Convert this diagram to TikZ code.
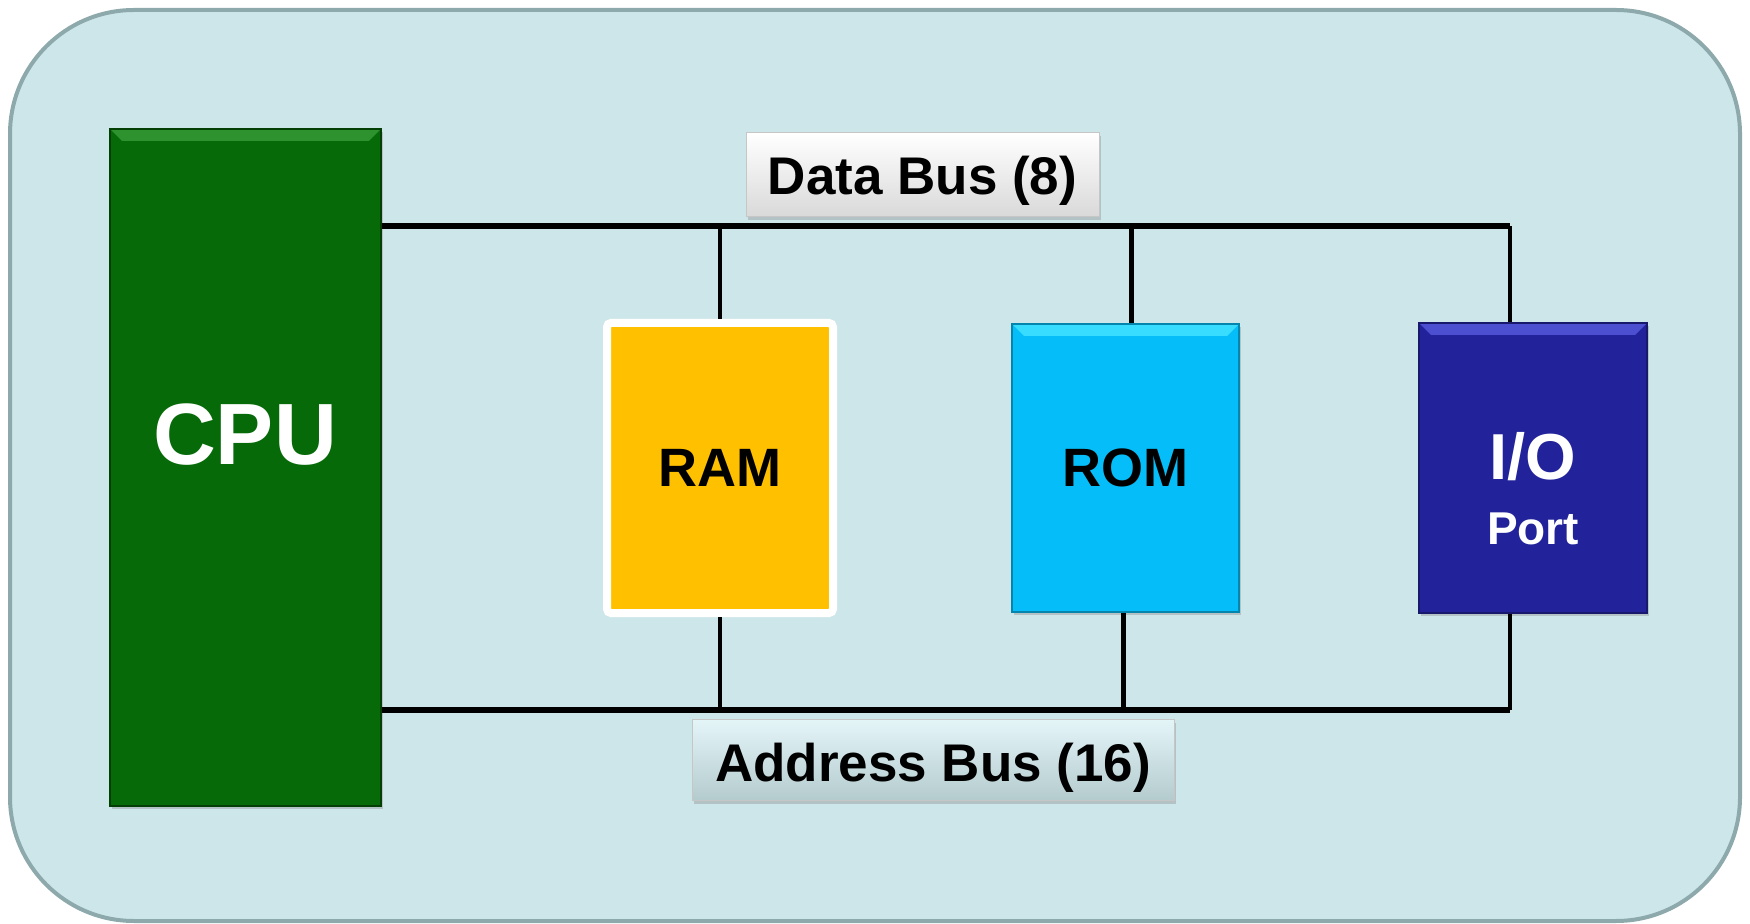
\documentclass[tikz,border=0pt]{standalone}
\usepackage{fontspec}
\setmainfont{Liberation Sans}
\usetikzlibrary{shadows}

\definecolor{panelbg}{HTML}{CDE6EA}
\definecolor{panelrim}{HTML}{8DA9AB}
\definecolor{cpugreen}{HTML}{066A08}
\definecolor{cpulight}{HTML}{2E922F}
\definecolor{ramgold}{HTML}{FFC000}
\definecolor{romcyan}{HTML}{05BEF9}
\definecolor{romlight}{HTML}{38DCFF}
\definecolor{ioblue}{HTML}{22239A}
\definecolor{iolight}{HTML}{4B4FD0}
\definecolor{addrtop}{HTML}{E4F5F8}
\definecolor{addrbot}{HTML}{B4CBCE}

\tikzset{
    chip/.style={rectangle, inner sep=0pt, text=white, font=\bfseries,
        drop shadow={opacity=0.35, shadow xshift=1pt, shadow yshift=-1.5pt}},
    bevel/.style={path picture={
        \fill[#1] (path picture bounding box.north west)
            -- (path picture bounding box.north east)
            -- ([xshift=-6pt,yshift=-6pt]path picture bounding box.north east)
            -- ([xshift=6pt,yshift=-6pt]path picture bounding box.north west) -- cycle;}},
    buslabel/.style={rectangle, inner sep=0pt, draw=gray!45, line width=0.5pt,
        drop shadow={opacity=0.35, shadow xshift=1pt, shadow yshift=-1.5pt}},
    bus/.style={line width=3pt},
    tap/.style={line width=2.4pt}
}

\begin{document}
\begin{tikzpicture}[x=0.5pt, y=-0.5pt]
    \useasboundingbox (0,0) rectangle (1750,924);

    % --- Pannello di sfondo ---
    \draw[fill=panelbg, draw=panelrim, line width=2pt, rounded corners=62pt]
        (10,10) rectangle (1740,921);

    % --- Blocchi ---
    \node[chip, fill=cpugreen, bevel=cpulight, draw=cpugreen!60!black, line width=0.6pt,
          minimum width=135.5pt, minimum height=338.5pt] (cpu) at (245.5,467.5) {};
    \node[text=white, font=\fontsize{43.5}{50}\selectfont\bfseries] (cpulbl) at (245,435) {CPU};

    \node[chip, fill=ramgold, draw=white, line width=4pt, rounded corners=2pt, text=black,
          minimum width=113pt, minimum height=145pt,
          font=\fontsize{27}{32}\selectfont\bfseries] (ram) at (720,468) {RAM};

    \node[chip, fill=romcyan, bevel=romlight, draw=romcyan!70!black, line width=0.6pt, text=black,
          minimum width=113.5pt, minimum height=144pt,
          font=\fontsize{27}{32}\selectfont\bfseries] (rom) at (1125.5,468) {ROM};

    \node[chip, fill=ioblue, bevel=iolight, draw=ioblue!70!black, line width=0.6pt,
          minimum width=114pt, minimum height=145pt] (io) at (1533,468) {};
    \node[anchor=base, text=white, font=\fontsize{32.5}{36}\selectfont\bfseries]
        (iolbl) at (1533,480) {I/O};
    \node[anchor=base, text=white, font=\fontsize{23}{27}\selectfont\bfseries]
        (portlbl) at (1533,545) {Port};

    % --- Bus dati ---
    \coordinate (dbus) at (1510,226);
    \draw[bus] (cpu.east |- dbus) -- (dbus);
    \draw[tap] (dbus) -- (dbus |- io.north);
    \draw[tap] (ram.north |- dbus) -- (ram.north);
    \draw[tap] ([xshift=3pt]rom.north |- dbus) -- ([xshift=3pt]rom.north);

    % --- Bus indirizzi ---
    \coordinate (abus) at (1510,710);
    \draw[bus] (cpu.east |- abus) -- (abus);
    \draw[tap] (abus) -- (abus |- io.south);
    \draw[tap] (ram.south |- abus) -- (ram.south);
    \draw[tap] ([xshift=-1pt]rom.south |- abus) -- ([xshift=-1pt]rom.south);

    % --- Etichette dei bus ---
    \node[buslabel, top color=white, bottom color=black!15,
          minimum width=176.5pt, minimum height=42pt, text height=24pt, text depth=4pt,
          font=\fontsize{26.5}{32}\selectfont\bfseries]
        (dbuslbl) at (922.5,175) {Data Bus (8)};
    \node[buslabel, top color=addrtop, bottom color=addrbot,
          minimum width=241pt, minimum height=40.5pt, text height=24.5pt, text depth=3.5pt,
          font=\fontsize{26.5}{32}\selectfont\bfseries]
        (abuslbl) at (933,760) {Address Bus (16)};
\end{tikzpicture}
\end{document}
